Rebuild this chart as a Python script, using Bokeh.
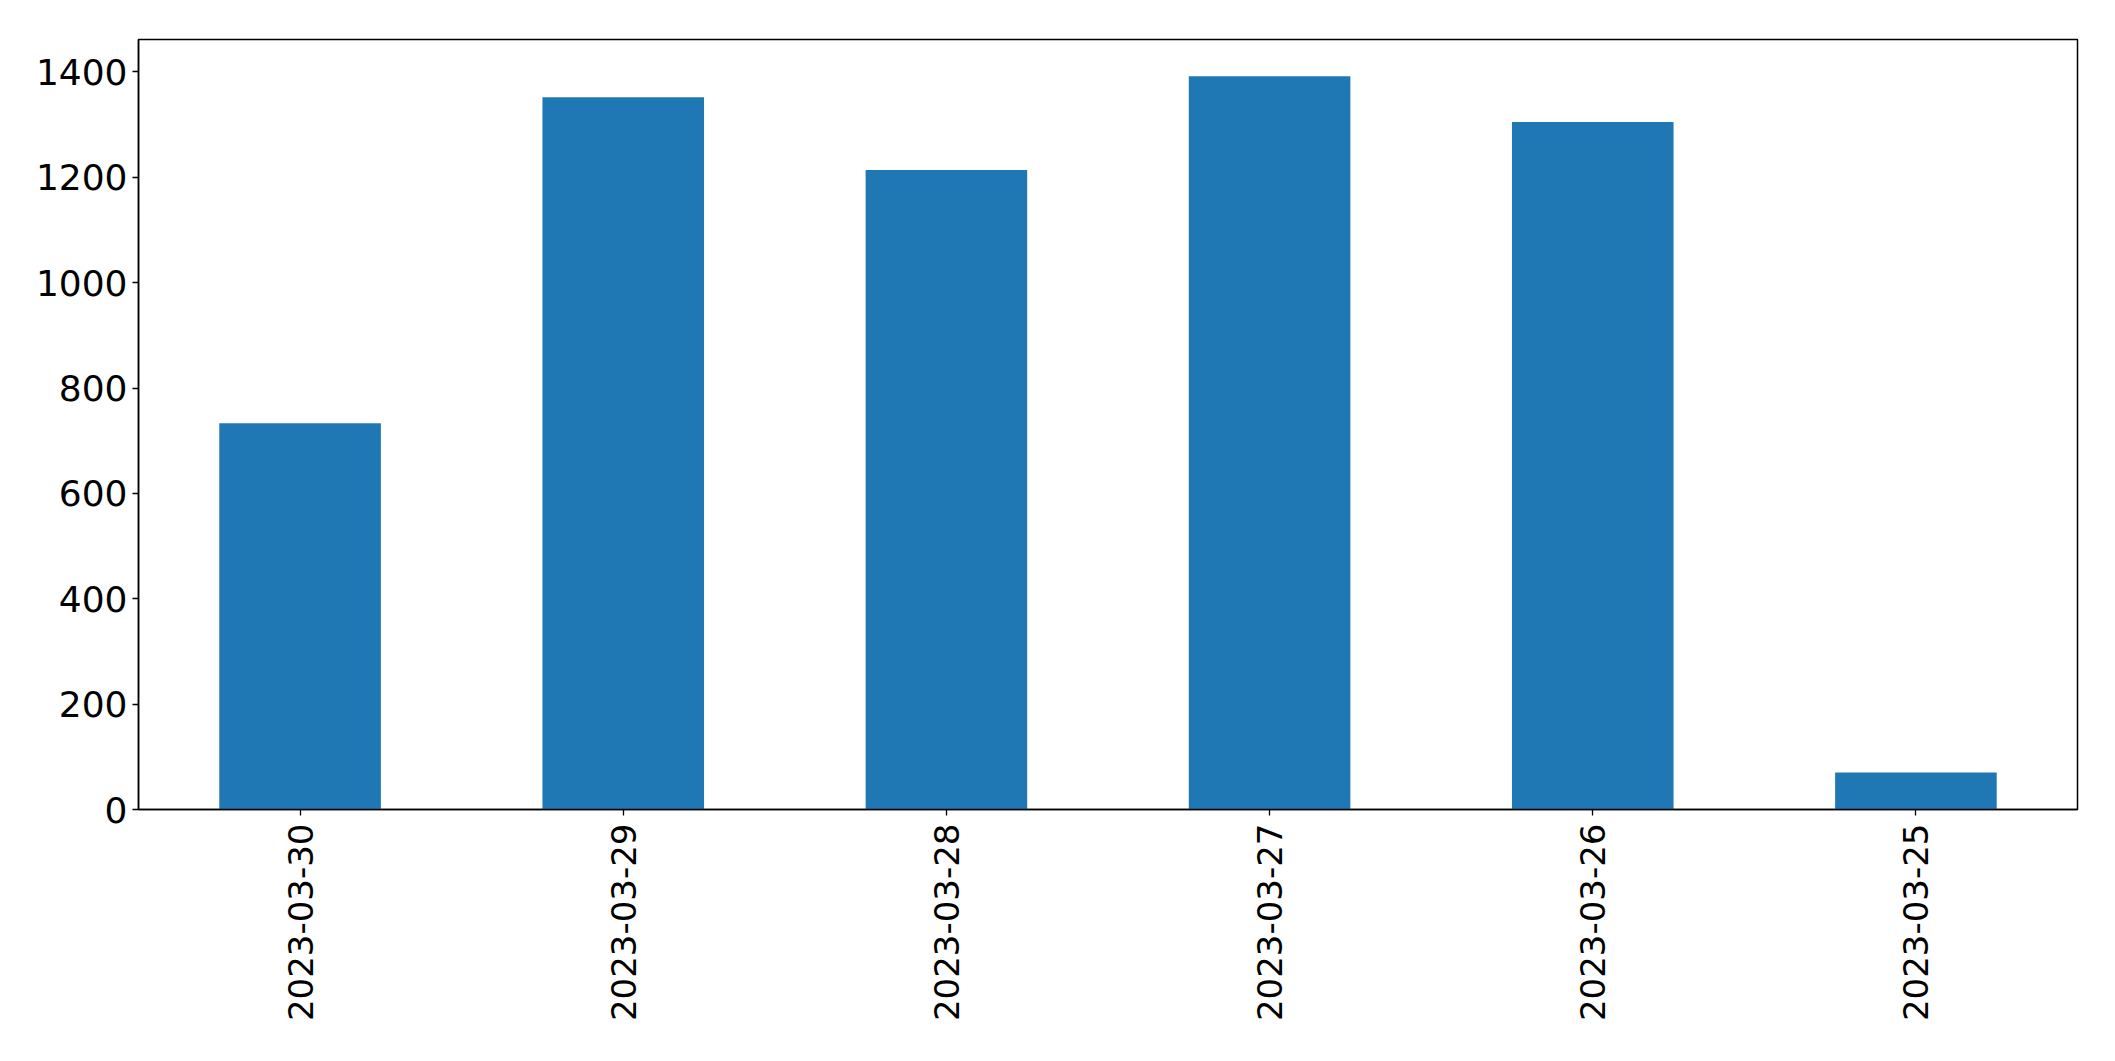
from math import pi

from bokeh.embed import file_html
from bokeh.models import ColumnDataSource, FixedTicker
from bokeh.plotting import figure
from bokeh.resources import INLINE

# daily counts, newest first (as in the original)
dates = ["2023-03-30", "2023-03-29", "2023-03-28", "2023-03-27", "2023-03-26", "2023-03-25"]
counts = [733, 1352, 1214, 1392, 1305, 70]
y_ticks = [0, 200, 400, 600, 800, 1000, 1200, 1400]

source = ColumnDataSource(data=dict(date=dates, count=counts))

p = figure(x_range=dates, y_range=(0, max(counts) * 1.05),
           width=2099, height=1045,
           output_backend="svg", toolbar_location=None, tools="",
           min_border_left=138, min_border_right=22,
           min_border_top=39, min_border_bottom=236)

p.vbar(x="date", top="count", width=0.5, source=source,
       fill_color="#1f77b4", line_color=None)

# matplotlib-like frame
p.outline_line_color = "black"
p.outline_line_width = 1.5
p.xgrid.grid_line_color = None
p.ygrid.grid_line_color = None
p.background_fill_color = "white"
p.border_fill_color = "white"

for ax in (p.xaxis, p.yaxis):
    ax.axis_line_color = "black"
    ax.axis_line_width = 1.5
    ax.major_tick_line_color = "black"
    ax.major_tick_line_width = 1.3
    ax.major_tick_out = 6
    ax.major_tick_in = 0
    ax.minor_tick_line_color = None
    ax.major_label_text_font = "DejaVu Sans"
    ax.major_label_text_color = "black"

p.yaxis.ticker = FixedTicker(ticks=y_ticks)
p.yaxis.major_label_text_font_size = "36px"
p.yaxis.major_label_standoff = 5
p.xaxis.major_label_text_font_size = "34px"
p.xaxis.major_label_orientation = pi / 2
p.xaxis.major_label_standoff = 8

open("out.html", "w").write(file_html(p, INLINE))
